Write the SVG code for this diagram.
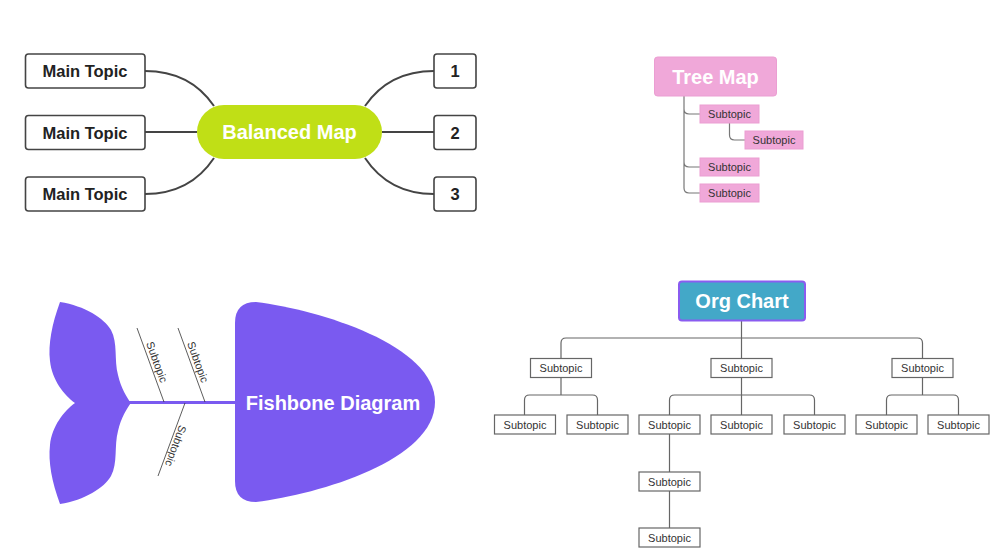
<svg xmlns="http://www.w3.org/2000/svg" width="1000" height="557" viewBox="0 0 1000 557">
<style>
text{font-family:"Liberation Sans",Arial,sans-serif;text-anchor:middle;dominant-baseline:central}
.mt{fill:#fff;stroke:#444;stroke-width:1.6}
.mtt{font-size:16.5px;font-weight:bold;fill:#222}
.big{font-size:20px;font-weight:bold;fill:#fff}
.bc{fill:none;stroke:#444;stroke-width:2}
.tp{fill:#f0a8d9;stroke:#eb9ed2;stroke-width:1}
.st{font-size:11px;fill:#333}
.tc{fill:none;stroke:#777;stroke-width:1.2}
.ob{fill:#fff;stroke:#666;stroke-width:1.2}
.oc{fill:none;stroke:#666;stroke-width:1.2}
.fb{fill:#7a5af0}
.bone{stroke:#333;stroke-width:0.8}
.fst{font-size:11px;fill:#333}
</style>
<g id="connectors">
<path class="bc" d="M145,71 Q190,71 214,106"/>
<path class="bc" d="M145,132 L197,132"/>
<path class="bc" d="M145,194 Q190,194 214,158"/>
<path class="bc" d="M434,71 Q389,71 365,106"/>
<path class="bc" d="M382,132 L434,132"/>
<path class="bc" d="M434,194 Q389,194 365,158"/>
<path class="tc" d="M684,96 V188 Q684,193 689,193 H700 M684,109 Q684,114 689,114 H700 M684,162 Q684,167 689,167 H700 M729.5,123 V135 Q729.5,140 734.5,140 H745"/>
<path class="oc" d="M741.5,321 V358 M561,358 V343 Q561,338 566,338 H917.5 Q922.5,338 922.5,343 V358"/>
<path class="oc" d="M561,377 V395 M524.5,415 V400 Q524.5,395 529.5,395 H592.5 Q597.5,395 597.5,400 V415"/>
<path class="oc" d="M741.5,377 V415 M669.5,415 V400 Q669.5,395 674.5,395 H809.5 Q814.5,395 814.5,400 V415"/>
<path class="oc" d="M922.5,377 V395 M886.5,415 V400 Q886.5,395 891.5,395 H953.5 Q958.5,395 958.5,400 V415"/>
<path class="oc" d="M669.5,434 V472 M669.5,491 V528"/>
</g>
<g id="balanced-center"><rect x="197" y="105" width="185" height="54" rx="27" fill="#c0df16"/><text class="big" x="289.5" y="132">Balanced Map</text></g>
<g id="main-topic-1"><rect class="mt" x="25.5" y="54" width="119.5" height="34" rx="3"/><text class="mtt" x="85" y="71">Main Topic</text></g>
<g id="main-topic-2"><rect class="mt" x="25.5" y="115.5" width="119.5" height="34" rx="3"/><text class="mtt" x="85" y="132.5">Main Topic</text></g>
<g id="main-topic-3"><rect class="mt" x="25.5" y="177" width="119.5" height="34" rx="3"/><text class="mtt" x="85" y="194">Main Topic</text></g>
<g id="num-1"><rect class="mt" x="434" y="54" width="42" height="34" rx="3"/><text class="mtt" x="455" y="71">1</text></g>
<g id="num-2"><rect class="mt" x="434" y="115.5" width="42" height="34" rx="3"/><text class="mtt" x="455" y="132.5">2</text></g>
<g id="num-3"><rect class="mt" x="434" y="177" width="42" height="34" rx="3"/><text class="mtt" x="455" y="194">3</text></g>
<g id="tree-map"><rect class="tp" x="654.5" y="57" width="122" height="39" rx="3"/><text class="big" x="715.5" y="76.5">Tree Map</text></g>
<g id="tree-sub-1"><rect class="tp" x="700" y="105" width="59" height="18"/><text class="st" x="729.5" y="114">Subtopic</text></g>
<g id="tree-sub-1-1"><rect class="tp" x="745" y="131" width="58" height="18"/><text class="st" x="774" y="140">Subtopic</text></g>
<g id="tree-sub-2"><rect class="tp" x="700" y="158" width="59" height="18"/><text class="st" x="729.5" y="167">Subtopic</text></g>
<g id="tree-sub-3"><rect class="tp" x="700" y="184" width="59" height="18"/><text class="st" x="729.5" y="193">Subtopic</text></g>
<g id="fish-tail"><path class="fb" d="M60,302 C85,306 104,318 111,330 C118,343 114,360 118,375 C121,388 127,398 131,403 C127,408 121,418 118,431 C114,446 118,463 111,476 C104,488 85,500 60,504 C52,482 48,462 50,445 C52,426 64,411 75,403 C64,395 52,380 50,361 C48,344 52,324 60,302 Z"/></g>
<g id="fish-spine"><line x1="129" y1="402.5" x2="238" y2="402.5" stroke="#7a5af0" stroke-width="3"/></g>
<g id="fish-head"><path class="fb" d="M256,302 Q235,302 235,323 L235,481 Q235,502 256,502 C320,494 435,460 435,402 C435,345 320,310 256,302 Z"/><text class="big" x="333" y="403">Fishbone Diagram</text></g>
<g id="bone-1"><line class="bone" x1="137" y1="328" x2="164" y2="402"/><text class="fst" transform="translate(157,362) rotate(70)">Subtopic</text></g>
<g id="bone-2"><line class="bone" x1="178" y1="328" x2="205" y2="402"/><text class="fst" transform="translate(198,362) rotate(70)">Subtopic</text></g>
<g id="bone-3"><line class="bone" x1="185" y1="403" x2="158" y2="476"/><text class="fst" transform="translate(176,446) rotate(110)">Subtopic</text></g>
<g id="org-chart"><rect x="679" y="281.5" width="126" height="39" rx="3" fill="#43a8c8" stroke="#8a5cf0" stroke-width="2"/><text class="big" x="742" y="301">Org Chart</text></g>
<g id="org-a"><rect class="ob" x="530.5" y="358.5" width="61" height="19"/><text class="st" x="561" y="368">Subtopic</text></g>
<g id="org-b"><rect class="ob" x="711" y="358.5" width="61" height="19"/><text class="st" x="741.5" y="368">Subtopic</text></g>
<g id="org-c"><rect class="ob" x="892" y="358.5" width="61" height="19"/><text class="st" x="922.5" y="368">Subtopic</text></g>
<g id="org-a1"><rect class="ob" x="494.5" y="415" width="61" height="19"/><text class="st" x="525" y="424.5">Subtopic</text></g>
<g id="org-a2"><rect class="ob" x="567" y="415" width="61" height="19"/><text class="st" x="597.5" y="424.5">Subtopic</text></g>
<g id="org-b1"><rect class="ob" x="639" y="415" width="61" height="19"/><text class="st" x="669.5" y="424.5">Subtopic</text></g>
<g id="org-b2"><rect class="ob" x="711" y="415" width="61" height="19"/><text class="st" x="741.5" y="424.5">Subtopic</text></g>
<g id="org-b3"><rect class="ob" x="784" y="415" width="61" height="19"/><text class="st" x="814.5" y="424.5">Subtopic</text></g>
<g id="org-c1"><rect class="ob" x="856" y="415" width="61" height="19"/><text class="st" x="886.5" y="424.5">Subtopic</text></g>
<g id="org-c2"><rect class="ob" x="928" y="415" width="61" height="19"/><text class="st" x="958.5" y="424.5">Subtopic</text></g>
<g id="org-b1a"><rect class="ob" x="639" y="472" width="61" height="19"/><text class="st" x="669.5" y="481.5">Subtopic</text></g>
<g id="org-b1b"><rect class="ob" x="639" y="528" width="61" height="19"/><text class="st" x="669.5" y="537.5">Subtopic</text></g>
</svg>
